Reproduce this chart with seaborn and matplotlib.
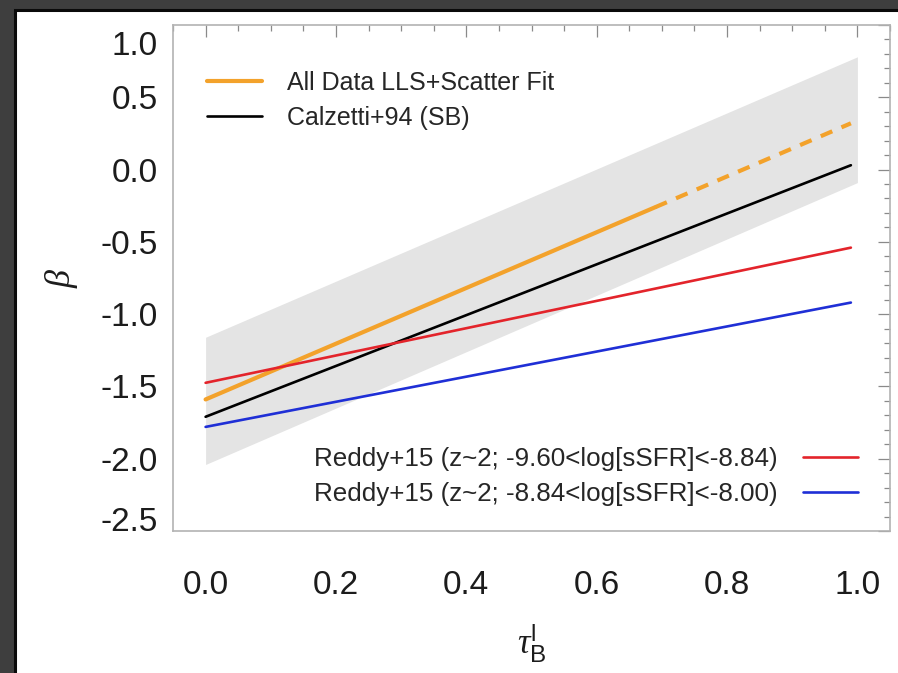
import matplotlib
matplotlib.use("Agg")
import matplotlib.pyplot as plt
from matplotlib.patches import Rectangle
from matplotlib.lines import Line2D
from matplotlib.ticker import MultipleLocator
import matplotlib.transforms as mtransforms
import pandas as pd
import seaborn as sns

# Best fit: solid over the sampled range, dashed where it is extrapolated
fit_tau = [0.0, 0.69, 0.99]
fit_beta = [-1.59, -0.26, 0.32]

# Intrinsic scatter envelope around the fit
band_tau = [0.0, 1.0]
band_upper = [-1.16, 0.78]
band_lower = [-2.04, -0.09]

# Calzetti+94 starburst relation
calz_tau = [0.0, 0.99]
calz_beta = [-1.71, 0.03]

# Reddy+15 relations for two sSFR bins
reddy_tau = [0.0, 0.99]
reddy_low_beta = [-1.475, -0.54]
reddy_high_beta = [-1.78, -0.92]

series_labels = [
    "All Data LLS+Scatter Fit",
    "Calzetti+94 (SB)",
    "Reddy+15 (z~2; -9.60<log[sSFR]<-8.84)",
    "Reddy+15 (z~2; -8.84<log[sSFR]<-8.00)",
]
x_ticks = [0.0, 0.2, 0.4, 0.6, 0.8, 1.0]
y_ticks = [1.0, 0.5, 0.0, -0.5, -1.0, -1.5, -2.0, -2.5]

ORANGE = "#F3A22B"
RED = "#E3242B"
BLUE = "#1F2FD6"
BAND = "#E4E4E4"

sns.set_style("white")
plt.rcParams["font.family"] = ["Liberation Sans", "DejaVu Sans"]
plt.rcParams["mathtext.fontset"] = "custom"
plt.rcParams["mathtext.rm"] = "Liberation Sans"
plt.rcParams["mathtext.it"] = "Liberation Serif:italic"

fig = plt.figure(figsize=(8.98, 6.73), dpi=100, facecolor="#3e3e3e")
fig.add_artist(Rectangle((15 / 898, -0.05), 1.05, 1 - 10 / 673 + 0.05,
                         transform=fig.transFigure, facecolor="white",
                         edgecolor="#0a0a0a", linewidth=2.2, zorder=-10))
ax = fig.add_axes([173 / 898, 1 - 531 / 673, 717 / 898, 506 / 673])
ax.set_facecolor("none")

ax.fill_between(band_tau, band_lower, band_upper, color=BAND, linewidth=0, zorder=1)

fit_solid = pd.DataFrame({"tau": fit_tau[:2], "beta": fit_beta[:2]})
fit_dash = pd.DataFrame({"tau": fit_tau[1:], "beta": fit_beta[1:]})
calz = pd.DataFrame({"tau": calz_tau, "beta": calz_beta})
reddy_low = pd.DataFrame({"tau": reddy_tau, "beta": reddy_low_beta})
reddy_high = pd.DataFrame({"tau": reddy_tau, "beta": reddy_high_beta})

sns.lineplot(data=fit_solid, x="tau", y="beta", ax=ax, color=ORANGE, lw=3.0, zorder=3)
sns.lineplot(data=fit_dash, x="tau", y="beta", ax=ax, color=ORANGE, lw=3.0,
             dashes=False, zorder=3).lines[-1].set_dashes((3.0, 2.4))
sns.lineplot(data=calz, x="tau", y="beta", ax=ax, color="black", lw=1.9, zorder=4)
sns.lineplot(data=reddy_low, x="tau", y="beta", ax=ax, color=RED, lw=1.9, zorder=5)
sns.lineplot(data=reddy_high, x="tau", y="beta", ax=ax, color=BLUE, lw=1.9, zorder=5)

ax.set_xlim(-0.05, 1.05)
ax.set_ylim(-2.5, 1.0)
ax.set_xticks(x_ticks)
ax.set_xticklabels([f"{v:.1f}" for v in x_ticks])
ax.set_yticks(y_ticks)
ax.set_yticklabels([f"{v:.1f}" for v in y_ticks])
ax.xaxis.set_minor_locator(MultipleLocator(0.05))
ax.yaxis.set_minor_locator(MultipleLocator(0.1))
ax.tick_params(which="both", direction="in", top=True, right=True,
               color="#8a8a8a", width=0.9, labelcolor="#1c1c1c")
ax.tick_params(which="major", length=8.5)
ax.tick_params(which="minor", length=4.5)
ax.tick_params(axis="x", which="major", labelsize=24, pad=28)
ax.tick_params(axis="y", which="major", labelsize=24, pad=11)
for s in ax.spines.values():
    s.set_color("#b3b3b3")
    s.set_linewidth(1.2)

# the end labels of the y axis sit inside the frame
ylabs = ax.get_yticklabels()
ylabs[0].set_va("top")
ylabs[0].set_transform(ylabs[0].get_transform() +
                       mtransforms.ScaledTranslation(0, -4 / 72, fig.dpi_scale_trans))
ylabs[-1].set_va("baseline")

ax.set_xlabel(r"$\tau^{\mathrm{l}}_{\mathrm{B}}$", fontsize=25, labelpad=15, color="#1c1c1c")
ax.set_ylabel(r"$\beta$", fontsize=26, labelpad=15, color="#1c1c1c")

h_top = [Line2D([], [], color=ORANGE, lw=3.0), Line2D([], [], color="black", lw=1.9)]
leg1 = ax.legend(h_top, series_labels[:2], loc="upper left",
                 bbox_to_anchor=(0.047, 0.91), frameon=False, fontsize=18,
                 handlelength=2.2, handletextpad=1.0, labelspacing=0.45,
                 borderaxespad=0, borderpad=0)
ax.add_artist(leg1)
h_bot = [Line2D([], [], color=RED, lw=1.9), Line2D([], [], color=BLUE, lw=1.9)]
ax.legend(h_bot, series_labels[2:], loc="lower right",
          bbox_to_anchor=(0.955, 0.05), frameon=False, fontsize=18.7,
          markerfirst=False, handlelength=2.1, handletextpad=1.0,
          labelspacing=0.4, borderaxespad=0, borderpad=0)

fig.savefig("out.png", dpi=100, facecolor=fig.get_facecolor())
